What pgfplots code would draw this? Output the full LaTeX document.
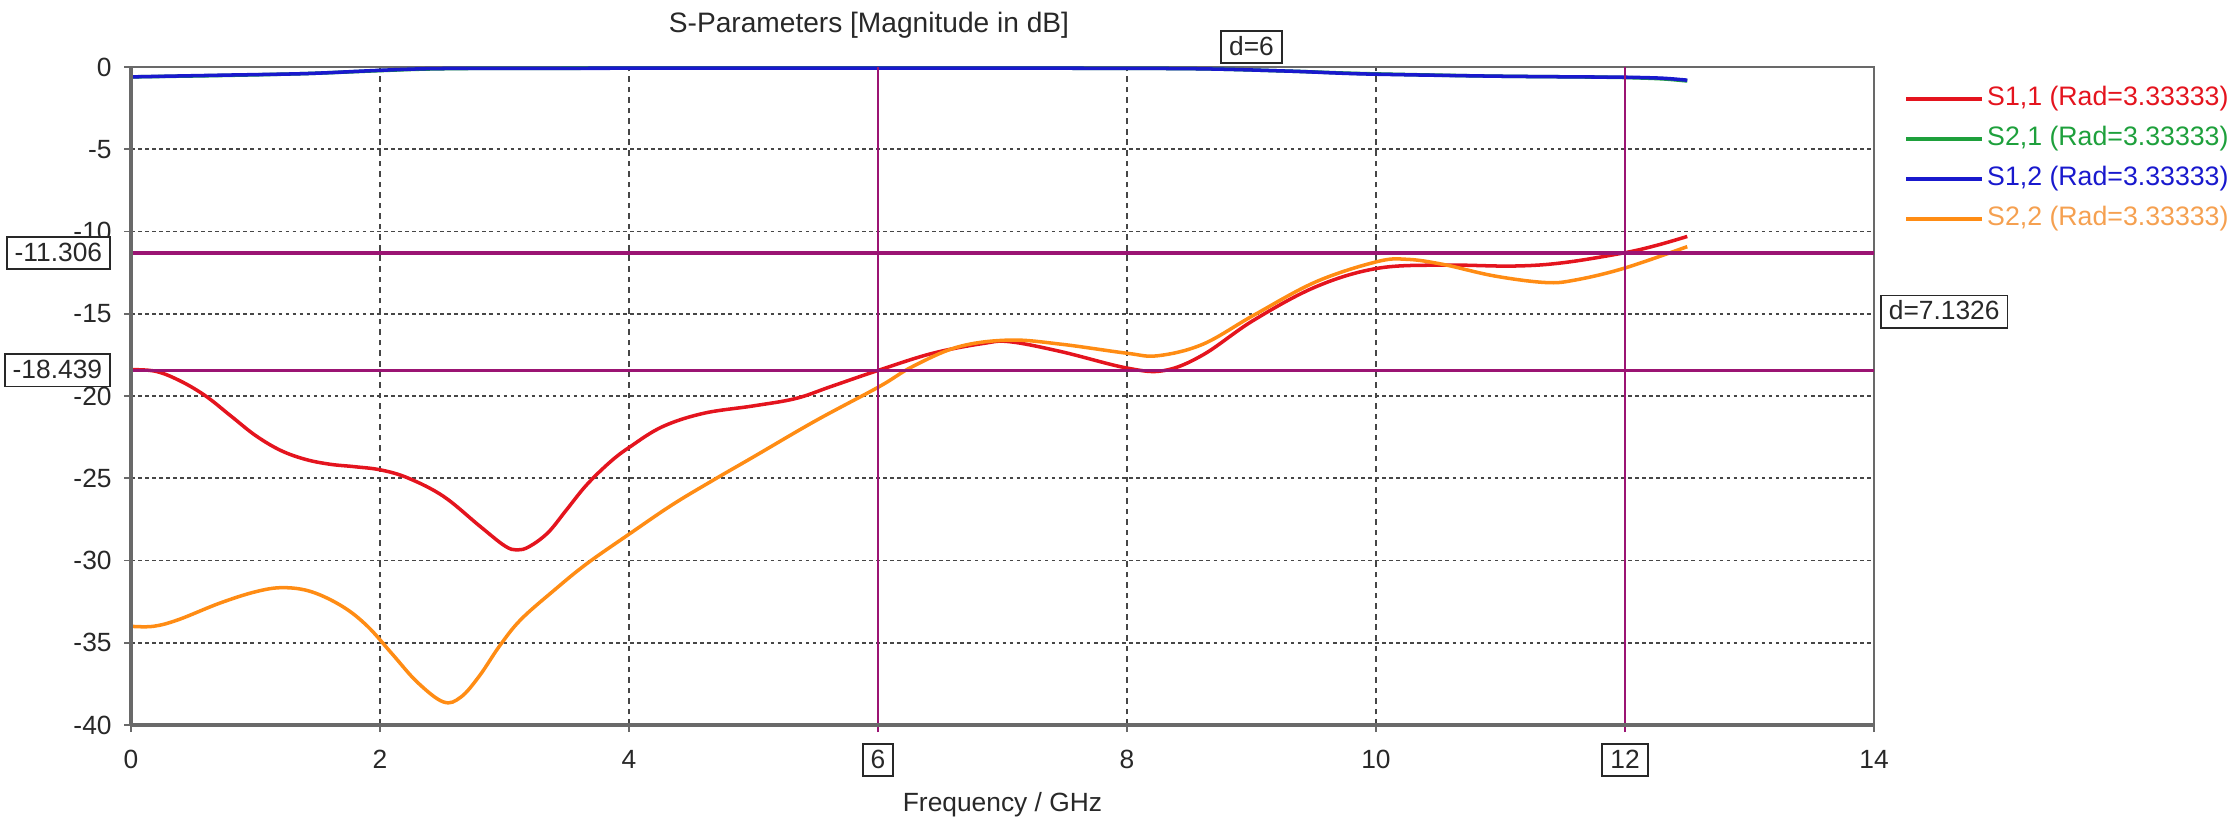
\documentclass[border=0pt]{standalone}
\usepackage{pgfplots}
\pgfplotsset{compat=1.18}
\usepackage{fontspec}
\setmainfont{Liberation Sans}
\definecolor{sred}{RGB}{228,20,30}
\definecolor{sgreen}{RGB}{30,160,60}
\definecolor{sblue}{RGB}{25,25,205}
\definecolor{sorange}{RGB}{255,140,20}
\definecolor{lorange}{RGB}{245,160,80}
\definecolor{mk}{RGB}{155,20,115}
\definecolor{gridc}{RGB}{70,70,70}
\definecolor{axc}{RGB}{105,105,105}
\definecolor{txt}{RGB}{40,40,40}
\begin{document}
\begin{tikzpicture}
\path[use as bounding box] (0,0) rectangle (223mm,81.9mm);
\begin{axis}[
  at={(13.1mm,9.4mm)}, anchor=south west,
  scale only axis, width=174.3mm, height=65.8mm,
  xmin=0, xmax=14, ymin=-40, ymax=0,
  xtick={0,2,...,14}, xticklabels={0,2,4,,8,10,,14},
  ytick={-40,-35,...,0}, yticklabels={-40,-35,-30,-25,-20,-15,-10,-5,0},
  tick pos=left, tick align=outside, major tick length=0.7mm,
  tick style={axc, line width=0.5pt},
  ticklabel style={font=\fontsize{7.5}{9}\selectfont, text=txt},
  xticklabel style={yshift=-0.6mm},
  grid=major,
  x grid style={gridc, line width=0.55pt, dash pattern=on 1.6pt off 1.4pt},
  y grid style={gridc, line width=0.55pt, dash pattern=on 1pt off 1pt},
  axis line style={axc, line width=0.6pt},
  xlabel={Frequency / GHz},
  xlabel style={at={(rel axis cs:0.5,0)}, anchor=center, yshift=-8mm, font=\fontsize{7.5}{9}\selectfont, text=txt},
  legend cell align=left,
  legend style={at={(rel axis cs:1,1)}, anchor=north west, xshift=3.0mm, yshift=-1.6mm,
    draw=none, fill=none, inner sep=0pt, row sep=0.9mm,
    font=\fontsize{7.6}{9}\selectfont,
    nodes={inner sep=0.3mm, text height=1.9mm, text depth=0.6mm}},
  legend image code/.code={\draw[#1, line width=1pt] (0mm,0mm) -- (7.6mm,0mm);},
  clip=false,
]
\addplot[sred, line width=1pt, smooth, tension=0.6, forget plot] coordinates {
(0,-18.4) (0.2,-18.5) (0.4,-19.1) (0.6,-20.0) (0.8,-21.2) (1.0,-22.4)
(1.2,-23.3) (1.4,-23.85) (1.6,-24.15) (1.8,-24.3) (2.01,-24.5) (2.23,-25.0)
(2.51,-26.1) (2.8,-27.9) (3.0,-29.1) (3.1,-29.36) (3.2,-29.15) (3.35,-28.3)
(3.5,-26.9) (3.66,-25.4) (3.85,-24.0) (4.01,-23.08) (4.27,-21.86) (4.6,-21.05)
(5.0,-20.6) (5.34,-20.15) (5.62,-19.43) (6.01,-18.42) (6.44,-17.4) (6.85,-16.8)
(7.06,-16.7) (7.47,-17.3) (8.0,-18.3) (8.3,-18.45) (8.61,-17.5) (9.02,-15.38)
(9.52,-13.35) (10.01,-12.24) (10.54,-12.04) (11.1,-12.1) (11.5,-11.9)
(11.99,-11.3) (12.25,-10.85) (12.5,-10.3)};
\addplot[sorange, line width=1pt, smooth, tension=0.6, forget plot] coordinates {
(0,-34.0) (0.18,-34.0) (0.38,-33.6) (0.71,-32.6) (1.0,-31.9) (1.22,-31.65)
(1.45,-31.9) (1.7,-32.8) (1.9,-34.0) (2.1,-35.7) (2.3,-37.4) (2.51,-38.6)
(2.65,-38.3) (2.8,-37.0) (2.96,-35.2) (3.13,-33.6) (3.4,-31.8) (3.66,-30.2) (4.01,-28.35)
(4.35,-26.6) (4.68,-25.1) (5.0,-23.7) (5.5,-21.5) (6.01,-19.43) (6.28,-18.2) (6.65,-17.0)
(7.06,-16.6) (7.47,-16.85) (8.0,-17.4) (8.25,-17.55) (8.61,-16.85) (9.02,-15.08)
(9.52,-13.05) (10.01,-11.83) (10.25,-11.69) (10.54,-12.0) (10.95,-12.7)
(11.36,-13.1) (11.6,-12.95) (11.99,-12.24) (12.5,-10.92)};
\addplot[sgreen, line width=1pt, smooth, forget plot] coordinates {
(0,-0.6) (0.7,-0.52) (1.4,-0.4) (2.0,-0.22) (2.4,-0.12) (3,-0.08) (5,-0.07)
(7,-0.07) (8.5,-0.1) (9.3,-0.25) (9.9,-0.4) (10.9,-0.55) (11.6,-0.6) (12,-0.64)
(12.3,-0.72) (12.5,-0.85)};
\addplot[sblue, line width=1pt, smooth, forget plot] coordinates {
(0,-0.6) (0.7,-0.5) (1.4,-0.4) (2.0,-0.2) (2.4,-0.1) (3,-0.08) (5,-0.07)
(7,-0.07) (8.5,-0.1) (9.3,-0.25) (9.9,-0.42) (10.9,-0.55) (11.6,-0.6) (12,-0.62)
(12.3,-0.68) (12.5,-0.8)};
% markers
\draw[mk, line width=1pt] (axis cs:0,-11.306) -- (axis cs:14,-11.306);
\draw[mk, line width=1pt] (axis cs:0,-18.439) -- (axis cs:14,-18.439);
\draw[mk, line width=0.8pt] ([yshift=-0.7mm]axis cs:6,-40) -- (axis cs:6,0);
\draw[mk, line width=0.8pt] ([yshift=-0.7mm]axis cs:12,-40) -- (axis cs:12,0);
% heavier bottom/left frame
\draw[axc, line width=1.1pt] (rel axis cs:0,0) -- (rel axis cs:1,0);
\draw[axc, line width=0.9pt] (rel axis cs:0,0) -- (rel axis cs:0,1);
% marker labels
\tikzset{mbox/.style={draw=txt, line width=0.5pt, fill=white, text=txt,
  font=\fontsize{7.5}{9}\selectfont, inner xsep=0.8mm, inner ysep=0.5mm,
  text height=1.95mm, text depth=0.3mm}}
\node[mbox, anchor=east] at ([xshift=-2mm]axis cs:0,-11.306) {-11.306};
\node[mbox, anchor=east] at ([xshift=-2mm]axis cs:0,-18.439) {-18.439};
\node[mbox] at ([yshift=-3.5mm]axis cs:6,-40) {6};
\node[mbox] at ([yshift=-3.5mm]axis cs:12,-40) {12};
\node[mbox, anchor=south] at ([yshift=0.3mm]axis cs:9,0) {d=6};
\node[mbox, anchor=west] at ([xshift=0.6mm]axis cs:14,-14.8725) {d=7.1326};
% legend entries
\addlegendimage{sred}\addlegendentry{\textcolor{sred}{S1,1 (Rad=3.33333)}}
\addlegendimage{sgreen}\addlegendentry{\textcolor{sgreen}{S2,1 (Rad=3.33333)}}
\addlegendimage{sblue}\addlegendentry{\textcolor{sblue}{S1,2 (Rad=3.33333)}}
\addlegendimage{sorange}\addlegendentry{\textcolor{lorange}{S2,2 (Rad=3.33333)}}
\end{axis}
\node[text=txt, font=\fontsize{8}{10}\selectfont] at (86.9mm,79.4mm) {S-Parameters [Magnitude in dB]};
\end{tikzpicture}
\end{document}
